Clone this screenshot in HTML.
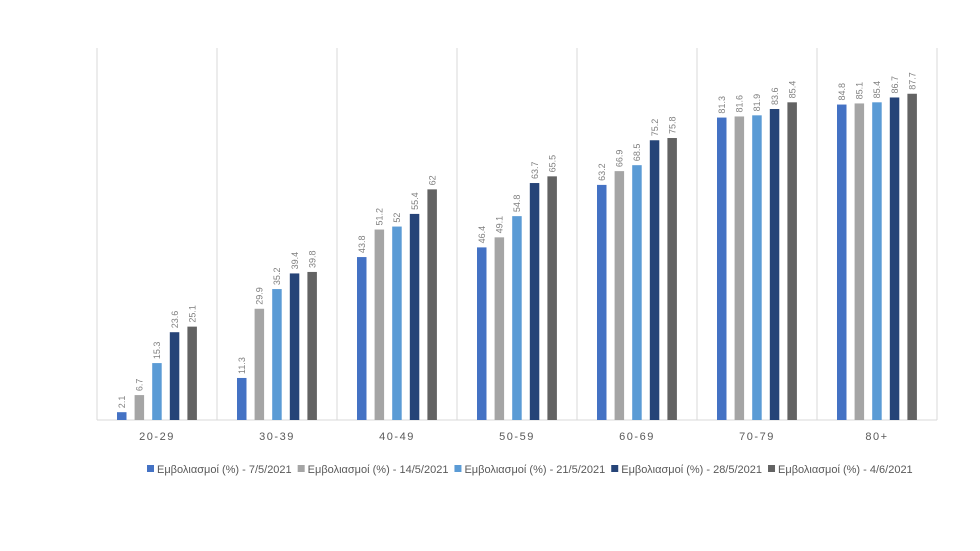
<!DOCTYPE html>
<html><head><meta charset="utf-8"><style>
body{margin:0;background:#fff;}
svg{display:block;font-family:"Liberation Sans",sans-serif;}
</style></head><body>
<svg id="c" width="980" height="551"></svg>
<script>
const categories=["20-29","30-39","40-49","50-59","60-69","70-79","80+"];
const seriesNames=["Εμβολιασμοί (%) - 7/5/2021","Εμβολιασμοί (%) - 14/5/2021","Εμβολιασμοί (%) - 21/5/2021","Εμβολιασμοί (%) - 28/5/2021","Εμβολιασμοί (%) - 4/6/2021"];
const s1=[2.1,11.3,43.8,46.4,63.2,81.3,84.8];
const s2=[6.7,29.9,51.2,49.1,66.9,81.6,85.1];
const s3=[15.3,35.2,52,54.8,68.5,81.9,85.4];
const s4=[23.6,39.4,55.4,63.7,75.2,83.6,86.7];
const s5=[25.1,39.8,62,65.5,75.8,85.4,87.7];
const series=[s1,s2,s3,s4,s5];
const colors=["#4472C4","#A5A5A5","#5B9BD5","#264478","#636363"];
const NS="http://www.w3.org/2000/svg";
const svg=document.getElementById('c');
const L=97,R=937,T=48,B=420,yMax=100;
const gw=(R-L)/categories.length;
const y=v=>B-(v/yMax)*(B-T);
const bx=(i,s)=>L+i*gw+20+s*17.6;
function mk(t,a){const e=document.createElementNS(NS,t);for(const k in a)e.setAttribute(k,a[k]);svg.appendChild(e);return e;}
for(let i=0;i<=categories.length;i++){
  const g=mk('line',{x1:L+i*gw,x2:L+i*gw,y1:T,y2:B,stroke:'#d9d9d9','stroke-width':1});
  
  
}
const ax=mk('line',{x1:L,x2:R,y1:B,y2:B,stroke:'#d9d9d9','stroke-width':1});


categories.forEach((c,i)=>{
  const t=mk('text',{x:L+i*gw+gw/2,y:440,'text-anchor':'middle','font-size':11,fill:'#595959','letter-spacing':'1.5'});
  t.textContent=c;
  
  
  series.forEach((s,k)=>{
    const x=bx(i,k),v=s[i];
    const r=mk('rect',{x:x,y:y(v),width:9.5,height:B-y(v),fill:colors[k]});
    
    
    const lx=x+8,ly=y(v)-4;
    const tl=mk('text',{x:lx,y:ly,transform:`rotate(-90 ${lx} ${ly})`,'font-size':9,fill:'#7f7f7f'});
    tl.textContent=String(v);
    
    
  });
});
let lx=147;
seriesNames.forEach((n,k)=>{
  const sw=mk('rect',{x:lx,y:465,width:7,height:7,fill:colors[k]});
  
  
  const t=mk('text',{x:lx+10,y:473,'font-size':11,fill:'#595959'});
  t.textContent=n;
  
  
  lx+=10+t.getComputedTextLength()+6;
});
</script>
</body></html>
